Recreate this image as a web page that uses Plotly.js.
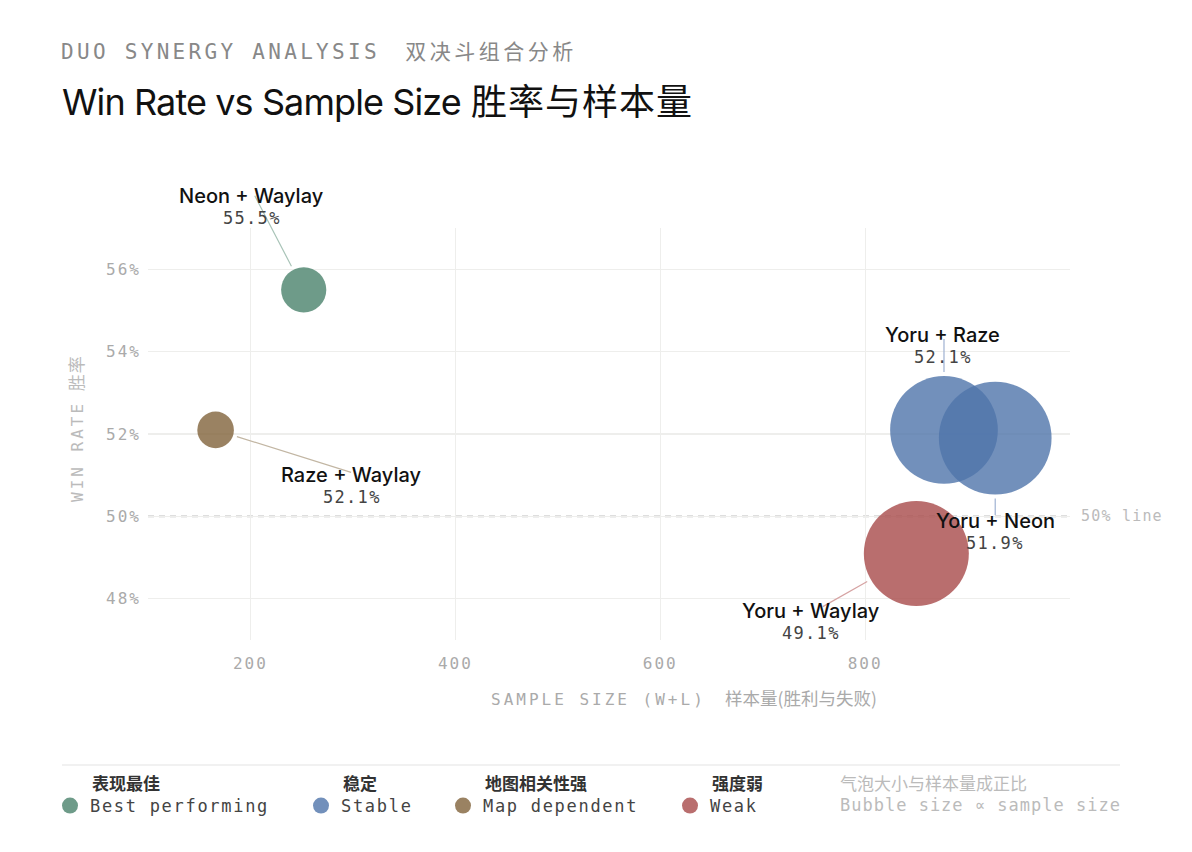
<!DOCTYPE html>
<html>
<head>
<meta charset="utf-8">
<script src="https://cdn.plot.ly/plotly-3.0.1.min.js"></script>
<style>
  html, body { margin: 0; padding: 0; background: #fff; }
  #myDiv { width: 1192px; height: 852px; }
</style>
</head>
<body>
<div id="myDiv"></div>
<script>
// duo pairs
const pairs    = ['Neon + Waylay', 'Raze + Waylay', 'Yoru + Raze', 'Yoru + Neon', 'Yoru + Waylay'];
const samples  = [252, 166, 877, 927, 850];
const winRates = [55.5, 52.1, 52.1, 51.9, 49.1];
const groupOf  = ['best', 'map', 'stable', 'stable', 'weak'];

// legend groups (in legend order)
const groupKeys = ['best', 'stable', 'map', 'weak'];
const groupEn   = ['Best performing', 'Stable', 'Map dependent', 'Weak'];
const groupZh   = ['表现最佳', '稳定', '地图相关性强', '强度弱'];

const xTicks = [200, 400, 600, 800];
const yTicks = [48, 50, 52, 54, 56];

// styling
const colors = { best: '#4a826b', stable: '#4f74aa', map: '#81633b', weak: '#a74a4a' };
const lineColors = { best: '#a9c4b8', stable: '#9fb2d2', map: '#c2b6a3', weak: '#d6a3a3' };
const MONO = 'DejaVu Sans Mono, Noto Sans CJK SC, monospace';
const SANS = 'Inter, Noto Sans CJK SC, sans-serif';
const CJK = 'Noto Sans CJK SC, sans-serif';

// label placement per pair: [name dx, name dy, arrow tail dx, arrow tail dy] in px
const labelOffsets = [
  [-52, 94, -50, -96],
  [136, -45, 137, 43],
  [-1, 95, 0, -93],
  [0, -83, 0, 79],
  [-105, -58, -95, 54]
];

function spaced(txt, px) {
  return '<span style="letter-spacing:' + px + 'px">' + txt + '</span>';
}
function bubbleSize(n) { return 20 + n / 10; }

// plot frame in px, used to put paper-space text
const L = 148, R = 1070, T = 228, B = 640;
const px = v => (v - L) / (R - L);
const py = v => (B - v) / (B - T);

const legendLeft = [50, 301, 443, 670];

const data = groupKeys.map((g, gi) => {
  const idx = groupOf.map((k, i) => k === g ? i : -1).filter(i => i >= 0);
  return {
    type: 'scatter',
    mode: 'markers',
    x: idx.map(i => samples[i]),
    y: idx.map(i => winRates[i]),
    text: idx.map(i => pairs[i]),
    name: spaced(groupEn[gi], 1.7),
    legend: gi === 0 ? 'legend' : 'legend' + (gi + 1),
    hoverinfo: 'text',
    marker: {
      color: colors[g],
      opacity: 0.8,
      size: idx.map(i => bubbleSize(samples[i])),
      sizemode: 'diameter',
      line: { width: 0 }
    }
  };
});

const annotations = [];

pairs.forEach((p, i) => {
  const o = labelOffsets[i];
  const g = groupOf[i];
  // leader line
  annotations.push({
    x: samples[i], y: winRates[i], xref: 'x', yref: 'y',
    text: ' ', font: { size: 1 },
    showarrow: true, arrowhead: 0, arrowwidth: 1.2, arrowcolor: lineColors[g],
    ax: o[2], ay: o[3], standoff: bubbleSize(samples[i]) / 2 + 4
  });
  annotations.push({
    x: samples[i], y: winRates[i], xref: 'x', yref: 'y',
    text: p, showarrow: false, xshift: o[0], yshift: o[1],
    font: { family: SANS, size: 20, color: '#111', weight: 500 }
  });
  annotations.push({
    x: samples[i], y: winRates[i], xref: 'x', yref: 'y',
    text: spaced(winRates[i].toFixed(1) + '%', 1.3), showarrow: false,
    xshift: o[0], yshift: o[1] - 22,
    font: { family: MONO, size: 17, color: '#444' }
  });
});

// header
annotations.push({
  xref: 'paper', yref: 'paper', x: px(59), y: py(50), xanchor: 'left', yanchor: 'middle',
  showarrow: false,
  text: spaced('DUO SYNERGY ANALYSIS', 3.3) + '  ' +
        '<span style="font-family:Noto Sans CJK SC;font-size:21px;letter-spacing:3.5px">双决斗组合分析</span>',
  font: { family: MONO, size: 21, color: '#888' }
});

// axis titles
annotations.push({
  xref: 'paper', yref: 'paper', x: px(77), y: py(429), textangle: -90,
  xanchor: 'center', yanchor: 'middle',
  showarrow: false,
  text: spaced('WIN RATE', 3) + ' <span style="font-size:17px;letter-spacing:1px">胜率</span>',
  font: { family: MONO, size: 16, color: '#bbb' }
});
annotations.push({
  xref: 'paper', yref: 'paper', x: px(684), y: py(697), xanchor: 'center', yanchor: 'middle',
  showarrow: false,
  text: spaced('SAMPLE SIZE (W+L)', 3) + '  <span style="font-family:Noto Sans CJK SC;font-size:17.5px">样本量(胜利与失败)</span>',
  font: { family: MONO, size: 16, color: '#aaa' }
});

// 50% line label
annotations.push({
  xref: 'paper', yref: 'y', x: px(1079), y: 50, xanchor: 'left', yanchor: 'middle',
  showarrow: false, text: spaced('50% line', 1.2),
  font: { family: MONO, size: 15, color: '#bbb' }
});

// legend chinese row + note
groupZh.forEach((t, gi) => {
  annotations.push({
    xref: 'paper', yref: 'paper', x: px(legendLeft[gi] + 40), y: py(782),
    xanchor: 'left', yanchor: 'middle',
    showarrow: false, text: t,
    font: { family: CJK, size: 17, color: '#333', weight: 600 }
  });
});
annotations.push({
  xref: 'paper', yref: 'paper', x: px(838), y: py(782), xanchor: 'left', yanchor: 'middle',
  showarrow: false, text: '气泡大小与样本量成正比',
  font: { family: CJK, size: 17, color: '#bbb' }
});
annotations.push({
  xref: 'paper', yref: 'paper', x: px(838), y: py(805), xanchor: 'left', yanchor: 'middle',
  showarrow: false, text: spaced('Bubble size ∝ sample size', 1),
  font: { family: MONO, size: 17, color: '#bbb' }
});

function legendAt(left) {
  return {
    x: px(left), xanchor: 'left', y: py(788), yanchor: 'top',
    orientation: 'h', bgcolor: 'rgba(0,0,0,0)', borderwidth: 0,
    font: { family: MONO, size: 17, color: '#444' }
  };
}

const layout = {
  width: 1192, height: 852,
  margin: { l: L, r: 1192 - R, t: T, b: 852 - B },
  paper_bgcolor: '#fff', plot_bgcolor: '#fff',
  title: {
    text: spaced('Win Rate vs Sample Size', -0.9) + ' <span style="letter-spacing:1px">胜率与样本量</span>',
    xref: 'container', yref: 'container', x: 62 / 1192, xanchor: 'left',
    y: 1 - 102 / 852, yanchor: 'middle',
    font: { family: SANS, size: 36, color: '#111' }
  },
  showlegend: true,
  legend: legendAt(legendLeft[0]),
  legend2: legendAt(legendLeft[1]),
  legend3: legendAt(legendLeft[2]),
  legend4: legendAt(legendLeft[3]),
  xaxis: {
    range: [100, 1000], tickvals: xTicks, ticktext: xTicks.map(v => spaced(String(v), 2)),
    showgrid: true, gridcolor: '#eeeeec', gridwidth: 1.2, zeroline: false, showline: false,
    ticks: '', ticklabelstandoff: 12,
    tickfont: { family: MONO, size: 16, color: '#aaa' }
  },
  yaxis: {
    range: [47, 57], tickvals: yTicks, ticktext: yTicks.map(v => spaced(v + '%', 2)),
    showgrid: true, gridcolor: '#eeeeec', gridwidth: 1.2, zeroline: false, showline: false,
    ticks: '', ticklabelstandoff: 6,
    tickfont: { family: MONO, size: 16, color: '#aaa' }
  },
  shapes: [
    { type: 'line', xref: 'paper', yref: 'y', x0: 0, x1: 1, y0: 50, y1: 50, layer: 'between',
      line: { color: '#bdbdbd', width: 1.6, dash: '6px,5px' } },
    { type: 'line', xref: 'paper', yref: 'paper', x0: px(62), x1: px(1120), y0: py(765), y1: py(765),
      line: { color: '#ececec', width: 1.5 } }
  ],
  annotations: annotations,
  hovermode: 'closest'
};

Plotly.newPlot('myDiv', data, layout, { displayModeBar: false, staticPlot: true });
</script>
</body>
</html>
